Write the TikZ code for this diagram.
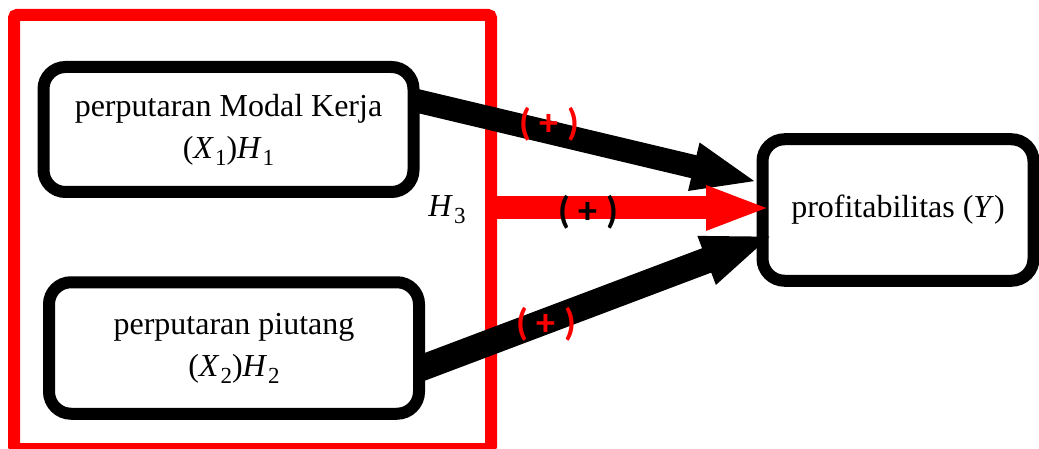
\documentclass[tikz,border=0pt]{standalone}
\usepackage{fontspec}
\setmainfont{Liberation Serif}
\newfontfamily\labfont{Carlito}
\usetikzlibrary{arrows.meta}
\pgfdeclarelayer{bg}
\pgfdeclarelayer{arr}
\pgfsetlayers{bg,arr,main}
\newcommand{\vsub}[2]{\textit{#1}\kern1pt\raisebox{-0.22em}{\fontsize{23}{23}\selectfont #2}}
\begin{document}
\begin{tikzpicture}[x=1pt,y=-1pt,
  box/.style={draw=black, line width=12pt, rounded corners=22pt, fill=white, align=center, font=\fontsize{32}{42}\selectfont, inner sep=0pt},
  grpbox/.style={draw=red, line width=12pt, rounded corners=3pt, inner sep=0pt},
  blkarrow/.style={black, line width=24pt},
  redarrow/.style={red, line width=23pt, -{Triangle[length=65pt,width=40pt]}},
  plus/.style={font=\labfont\bfseries\fontsize{38}{38}\selectfont, inner sep=0pt},
  hlabel/.style={font=\fontsize{32}{32}\selectfont, inner sep=0pt}
]
\useasboundingbox (0,0) rectangle (1039,449);
\begin{pgfonlayer}{bg}
  \node[grpbox, minimum width=477pt, minimum height=434pt] (grp) at (252.5,232) {};
  \node[box, minimum width=271pt, minimum height=141.5pt] (y) at (898,210) {profitabilitas (\textit{Y})};
\end{pgfonlayer}
\node[box, minimum width=370pt, minimum height=125pt] (x1) at (228.5,129.5) {perputaran Modal Kerja\\(\vsub{X}{1})\vsub{H}{1}};
\node[box, minimum width=370pt, minimum height=131.5pt] (x2) at (234,348) {perputaran piutang\\(\vsub{X}{2})\vsub{H}{2}};
\node[hlabel] (h3) at (447,210) {\vsub{H}{3}};
\begin{pgfonlayer}{arr}
  \draw[blkarrow, line width=23.5pt, -{Triangle[length=66pt,width=44pt]}]
    ([xshift=-6pt,yshift=29.5pt]x1.east) -- ([xshift=1.5pt,yshift=28pt]y.west);
  \draw[redarrow]
    ([xshift=-6pt,yshift=24pt]grp.east) -- ([xshift=14.5pt,yshift=2pt]y.west);
  \draw[blkarrow, line width=26pt, -{Triangle[length=72pt,width=46pt]}]
    ([xshift=-6pt,yshift=-21pt]x2.east) -- ([xshift=17.5pt,yshift=-25pt]y.west);
\end{pgfonlayer}
\node[plus, text=red] (p1) at (549,124) {( + )};
\node[plus, text=black] (p2) at (588,212) {( + )};
\node[plus, text=red] (p3) at (546,324) {( + )};
\end{tikzpicture}
\end{document}
